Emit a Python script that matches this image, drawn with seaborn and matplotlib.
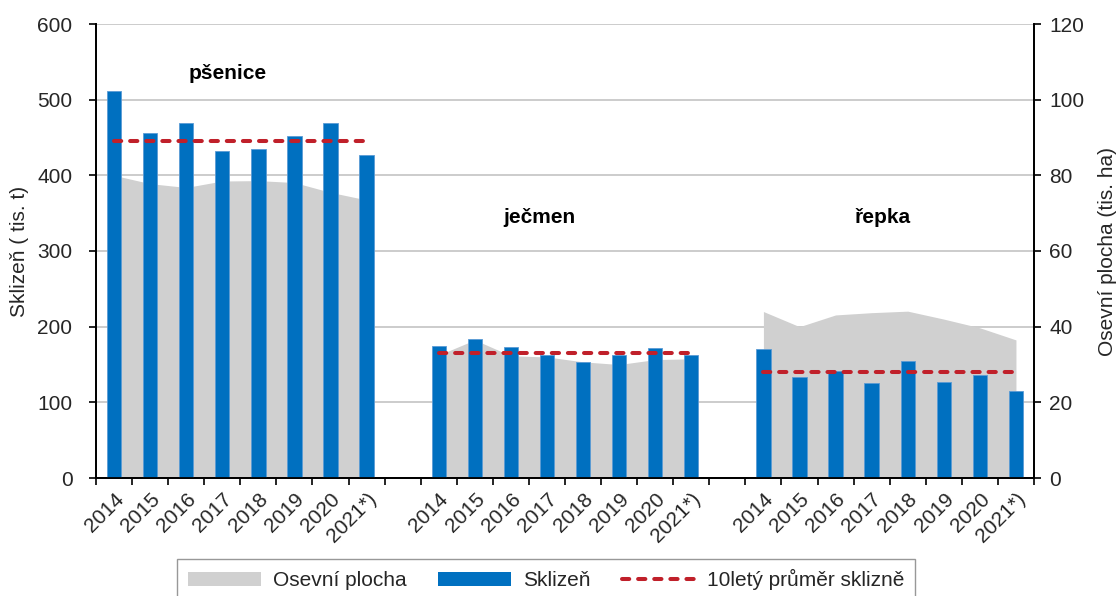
import numpy as np
import pandas as pd
import seaborn as sns
import matplotlib.pyplot as plt
from matplotlib.patches import Patch
from matplotlib.lines import Line2D

# --- Data ---
years = ['2014', '2015', '2016', '2017', '2018', '2019', '2020', '2021*)']
crops = ['pšenice', 'ječmen', 'řepka']

harvest_psenice = [512, 456, 469, 432, 435, 452, 469, 427]
harvest_jecmen = [175, 184, 173, 163, 153, 162, 172, 162]
harvest_repka = [170, 134, 142, 125, 155, 127, 136, 115]

area_psenice = [80, 77.8, 76.8, 78.5, 78.6, 78.1, 75.5, 73.5]
area_jecmen = [32.5, 36.5, 32.3, 32, 30.7, 30, 31.3, 31.5]
area_repka = [44, 40, 43.1, 43.7, 44.1, 42, 39.7, 36.5]

avg_10y = [445, 165, 140]

# --- Style ---
sns.set_theme(style='white')
plt.rcParams['font.family'] = ['Liberation Sans', 'DejaVu Sans']
FS = 15
BLUE = '#0070C0'
GREY = '#D0D0D0'
RED = '#C0202A'

harvest = [harvest_psenice, harvest_jecmen, harvest_repka]
area = [area_psenice, area_jecmen, area_repka]

rows = []
for g, crop in enumerate(crops):
    for i, yr in enumerate(years):
        rows.append({'crop': crop, 'year': yr, 'pos': g * 9 + i,
                     'harvest': harvest[g][i], 'area': area[g][i]})
df = pd.DataFrame(rows)

fig, ax = plt.subplots(figsize=(11.17, 5.96), dpi=100)
fig.subplots_adjust(left=96 / 1117, right=1034 / 1117, top=1 - 24 / 596, bottom=1 - 478 / 596)
ax2 = ax.twinx()
ax.set_zorder(ax2.get_zorder() + 1)
ax.patch.set_visible(False)

# sown area on the secondary axis, drawn behind the bars
for crop in crops:
    d = df[df['crop'] == crop]
    ax2.fill_between(d['pos'], d['area'], color=GREY, lw=0, zorder=2)
ax2.set_ylim(0, 120)
ax2.set_yticks(range(0, 121, 20))
ax2.yaxis.grid(True, color='#C8C8C8', lw=1.3)
ax2.set_axisbelow(True)

# harvest bars
sns.barplot(data=df, x='pos', y='harvest', native_scale=True, width=0.4,
            color=BLUE, saturation=1, errorbar=None,
            edgecolor='#5B9BD5', linewidth=0.6, ax=ax)

# 10-year average
for g, crop in enumerate(crops):
    d = df[df['crop'] == crop]
    sns.lineplot(x=d['pos'].to_numpy(), y=[avg_10y[g]] * len(d), ax=ax, color=RED,
                 lw=2.9, linestyle=(0, (1.8, 2.2)), dash_capstyle='round')

# group labels
label_x = [3.15, 11.8, 21.3]
label_y = [535, 344, 344]
for g, crop in enumerate(crops):
    ax.text(label_x[g], label_y[g], crop, ha='center', va='center',
            fontsize=FS, fontweight='bold', color='black')

# axes
ax.set_ylim(0, 600)
ax.set_yticks(range(0, 601, 100))
ax.set_xlim(-0.5, 25.5)
ax.set_xticks(df['pos'])
ax.set_xticklabels(years * 3, rotation=45, ha='right', rotation_mode='anchor', fontsize=FS)
ax.set_xticks(np.arange(-0.5, 26, 1), minor=True)
ax.tick_params(axis='x', which='major', length=0, pad=8)
ax.tick_params(axis='x', which='minor', bottom=True, length=5, width=1.2, color='black')
ax.tick_params(axis='y', left=True, length=5, width=1.2, color='black', labelsize=FS, pad=12)
ax2.tick_params(axis='y', right=True, length=5, width=1.2, color='black', labelsize=FS, pad=6)

ax.set_xlabel('')
ax.set_ylabel('Sklizeň ( tis. t)', fontsize=FS, labelpad=6)
ax2.set_ylabel('Osevní plocha (tis. ha)', fontsize=FS, labelpad=10)

for a in (ax, ax2):
    a.spines['top'].set_visible(False)
    for s in ('left', 'right', 'bottom'):
        a.spines[s].set_color('black')
        a.spines[s].set_linewidth(1.3)

# legend
handles = [Patch(facecolor=GREY, edgecolor='none'),
           Patch(facecolor=BLUE, edgecolor='none'),
           Line2D([0], [0], color=RED, lw=2.9, linestyle=(0, (1.8, 2.2)), dash_capstyle='round')]
labels = ['Osevní plocha', 'Sklizeň', '10letý průměr sklizně']
leg = fig.legend(handles, labels, loc='lower center', bbox_to_anchor=(0.489, -0.008), ncol=3,
                 frameon=True, fancybox=False, edgecolor='#7F7F7F', fontsize=FS,
                 handlelength=3.5, handleheight=0.6, handletextpad=0.6,
                 columnspacing=1.5, borderpad=0.5, borderaxespad=0)
leg.get_frame().set_linewidth(1.0)

fig.savefig('out.png', dpi=100)
